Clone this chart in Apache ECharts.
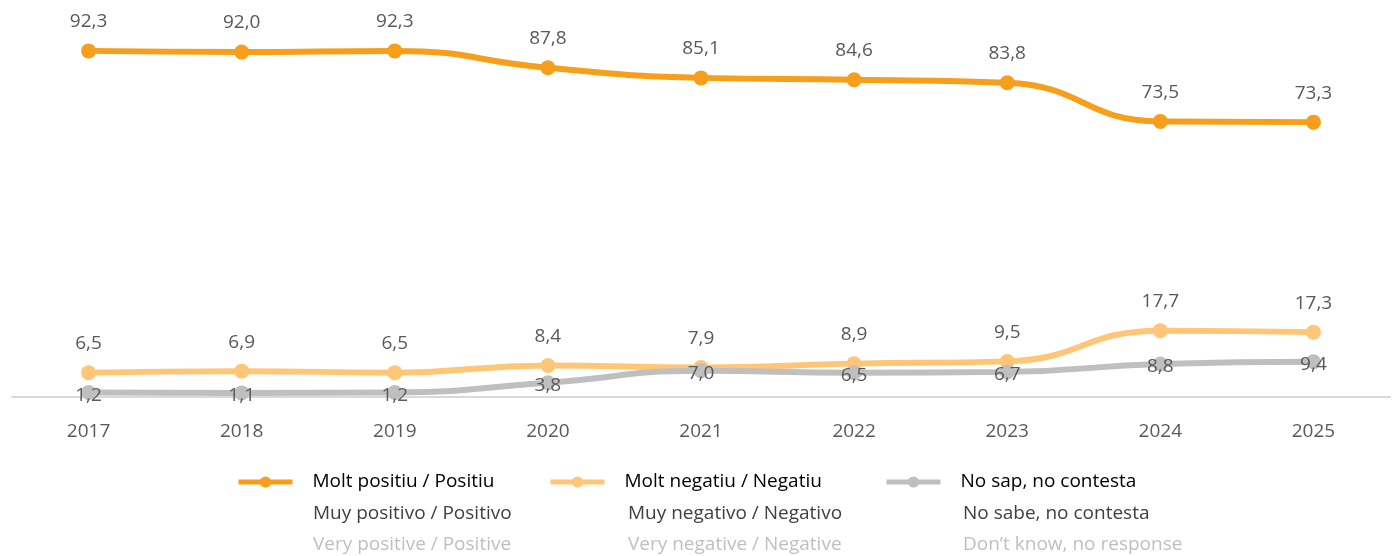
<!DOCTYPE html>
<html>
<head>
<meta charset="utf-8">
<script src="https://cdn.jsdelivr.net/npm/echarts@6/dist/echarts.min.js"></script>
<style>
  html, body { margin: 0; padding: 0; background: #fff; }
  #chart { width: 1398px; height: 556px; }
</style>
</head>
<body>
<div id="chart"></div>
<script>
// dades
const years = ['2017', '2018', '2019', '2020', '2021', '2022', '2023', '2024', '2025'];
const positiu = [92.3, 92.0, 92.3, 87.8, 85.1, 84.6, 83.8, 73.5, 73.3];
const negatiu = [6.5, 6.9, 6.5, 8.4, 7.9, 8.9, 9.5, 17.7, 17.3];
const nsnc = [1.2, 1.1, 1.2, 3.8, 7.0, 6.5, 6.7, 8.8, 9.4];

// noms de la llegenda (3 idiomes)
const namesCa = ['Molt positiu / Positiu', 'Molt negatiu / Negatiu', 'No sap, no contesta'];
const namesEs = ['Muy positivo / Positivo', 'Muy negativo / Negativo', 'No sabe, no contesta'];
const namesEn = ['Very positive / Positive', 'Very negative / Negative', 'Don\u2019t know, no response'];

const colors = ['#F79E1B', '#FFC677', '#BFBFBF'];
const FONT = 'Open Sans';

const fmt = p => p.value.toFixed(1).replace('.', ',');

const myChart = echarts.init(document.getElementById('chart'));

const legendLeft = [231, 543, 879];
const textLeft = [313, 628, 963];

function makeSeries(i, data, labelPos) {
    return {
        name: namesCa[i],
        type: 'line',
        data: data,
        smooth: 0.5,
        symbol: 'circle',
        symbolSize: 15,
        color: colors[i],
        lineStyle: { width: 6, color: colors[i] },
        itemStyle: { color: colors[i] },
        z: 2 + i,
        label: {
            show: true,
            position: labelPos,
            distance: labelPos === 'top' ? 12 : 0,
            offset: labelPos === 'top' ? [0, 0] : [0, 3],
            formatter: fmt,
            fontFamily: FONT,
            fontSize: 19,
            color: '#595959'
        }
    };
}

const option = {
    animation: false,
    textStyle: { fontFamily: FONT },
    grid: { left: 12, right: 8, top: 22, bottom: 159 },
    xAxis: {
        type: 'category',
        data: years,
        boundaryGap: true,
        axisLine: { lineStyle: { color: '#D9D9D9', width: 2 } },
        axisTick: { show: false },
        axisLabel: { margin: 25, fontFamily: FONT, fontSize: 19, color: '#595959' }
    },
    yAxis: {
        type: 'value',
        min: 0,
        max: 100,
        show: false,
        splitLine: { show: false }
    },
    legend: namesCa.map((n, i) => ({
        data: [n],
        left: legendLeft[i],
        top: 466,
        itemWidth: 54,
        itemHeight: 14,
        selectedMode: false,
        lineStyle: { width: 5 },
        textStyle: {
            fontFamily: FONT,
            fontSize: 19,
            color: '#000',
            padding: [0, 0, 0, 15],
            lineHeight: 22
        }
    })),
    graphic: [
        ...namesEs.map((t, i) => ({
            type: 'text',
            left: textLeft[i],
            top: 504,
            style: { text: t, fontFamily: FONT, fontSize: 19, fill: '#404040' }
        })),
        ...namesEn.map((t, i) => ({
            type: 'text',
            left: textLeft[i],
            top: 535,
            style: { text: t, fontFamily: FONT, fontSize: 19, fill: '#BFBFBF' }
        }))
    ],
    series: [
        makeSeries(0, positiu, 'top'),
        makeSeries(1, negatiu, 'top'),
        makeSeries(2, nsnc, 'inside')
    ]
};

myChart.setOption(option);
</script>
</body>
</html>
